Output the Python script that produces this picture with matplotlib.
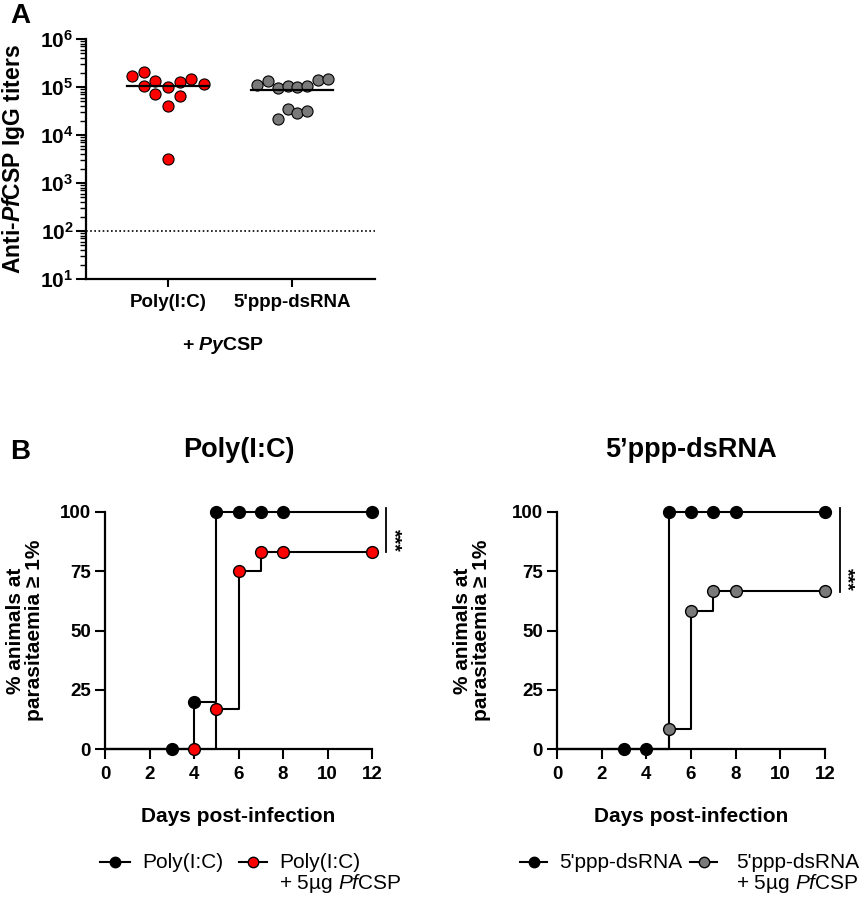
import math
import matplotlib
matplotlib.use('Agg')
import matplotlib.pyplot as plt
from matplotlib.lines import Line2D
from matplotlib.ticker import FuncFormatter, LogLocator, NullFormatter

plt.rcParams['font.family'] = ['Liberation Sans', 'DejaVu Sans']
plt.rcParams['mathtext.fontset'] = 'custom'
plt.rcParams['mathtext.rm'] = 'Liberation Sans'
plt.rcParams['mathtext.bf'] = 'Liberation Sans:bold'
plt.rcParams['mathtext.it'] = 'Liberation Sans:italic:bold'
plt.rcParams['mathtext.sf'] = 'Liberation Sans:italic'

# ---------------- Panel A data ----------------
groups = ['Poly(I:C)', "5'ppp-dsRNA"]
polyic_titers = [1.67e5, 2.1e5, 1.03e5, 1.35e5, 7.3e4, 1.0e5, 4.1e4, 3.1e3,
                 1.27e5, 6.4e4, 1.47e5, 1.17e5]
polyic_offsets = [-0.29, -0.196, -0.196, -0.10, -0.10, 0.0, 0.0, 0.0,
                  0.094, 0.094, 0.19, 0.288]
ppp_titers = [1.12e5, 1.35e5, 9.5e4, 2.2e4, 1.03e5, 3.4e4, 9.8e4, 2.9e4,
              1.07e5, 3.2e4, 1.42e5, 1.49e5]
ppp_offsets = [-0.28, -0.196, -0.116, -0.116, -0.035, -0.035, 0.04, 0.04,
               0.12, 0.12, 0.207, 0.293]
medians = [1.07e5, 8.8e4]
detection_limit = 100

# ---------------- Panel B data ----------------
days_polyic = [3, 4, 5, 6, 7, 8, 12]
pct_polyic = [0, 20, 100, 100, 100, 100, 100]
days_polyic_csp = [4, 5, 6, 7, 8, 12]
pct_polyic_csp = [0, 16.7, 75, 83.3, 83.3, 83.3]
days_ppp = [3, 4, 5, 6, 7, 8, 12]
pct_ppp = [0, 0, 100, 100, 100, 100, 100]
days_ppp_csp = [5, 6, 7, 8, 12]
pct_ppp_csp = [8.3, 58.3, 66.7, 66.7, 66.7]

RED = '#ff0000'
GRAY = '#7a7a7a'
W, H = 865, 899

fig = plt.figure(figsize=(W / 100, H / 100), dpi=100)


def rect(l, t, r, b):
    return [l / W, 1 - b / H, (r - l) / W, (b - t) / H]


def style_axes(ax):
    for s in ['top', 'right']:
        ax.spines[s].set_visible(False)
    for s in ['left', 'bottom']:
        ax.spines[s].set_linewidth(1.6)


# ================= Panel A =================
axA = fig.add_axes(rect(86, 39, 375, 279))
style_axes(axA)
axA.set_yscale('log')
axA.set_ylim(10, 1e6)
axA.set_xlim(-0.66, 1.67)

for gi, (vals, offs, col) in enumerate([(polyic_titers, polyic_offsets, RED),
                                        (ppp_titers, ppp_offsets, GRAY)]):
    xs = [gi + o for o in offs]
    axA.scatter(xs, vals, s=64, color=col, edgecolor='black', linewidth=0.8,
                zorder=3, clip_on=False)
    axA.plot([gi - 0.33, gi + 0.33], [medians[gi], medians[gi]], color='black',
             lw=1.6, zorder=4)

axA.axhline(detection_limit, color='black', ls=(0, (1, 1.5)), lw=1.2)

axA.set_xticks(range(len(groups)))
axA.set_xticklabels(groups, fontsize=13.5, fontweight='bold')
axA.tick_params(axis='x', length=6, width=1.5, pad=5)
axA.yaxis.set_major_locator(LogLocator(base=10, numticks=10))
axA.yaxis.set_minor_locator(LogLocator(base=10, subs=range(2, 10), numticks=20))
axA.yaxis.set_minor_formatter(NullFormatter())
axA.yaxis.set_major_formatter(FuncFormatter(
    lambda v, p: r'$\mathbf{10^{%d}}$' % round(math.log10(v))))
axA.tick_params(axis='y', which='major', length=7, width=1.5, pad=2, labelsize=15)
axA.tick_params(axis='y', which='minor', length=4, width=1.0)
axA.set_ylabel(r'Anti-$\mathit{Pf}$CSP IgG titers', fontsize=16.5, fontweight='bold',
               va='center')
axA.yaxis.set_label_coords(-0.251, 0.5)
axA.set_xlabel(r'+ $\mathit{Py}$CSP', fontsize=14, fontweight='bold', va='center')
axA.xaxis.set_label_coords(0.474, -0.275)

fig.text(20 / W, 1 - 16 / H, 'A', fontsize=20, fontweight='bold', ha='center',
         va='center')
fig.text(20 / W, 1 - 452 / H, 'B', fontsize=20, fontweight='bold', ha='center',
         va='center')


# ================= Panel B =================
def survival_panel(rect_px, title, d1, p1, c1, d2, p2, c2):
    ax = fig.add_axes(rect(*rect_px))
    style_axes(ax)
    ax.set_xlim(0, 12)
    ax.set_ylim(0, 100)
    for d, p, c in [(d1, p1, c1), (d2, p2, c2)]:
        ax.step([0] + d, [0] + p, where='post', color='black', lw=1.5,
                clip_on=False, zorder=2)
    for d, p, c in [(d1, p1, c1), (d2, p2, c2)]:
        ax.plot(d, p, 'o', color=c, mec='black', mew=1.0, ms=8.5,
                clip_on=False, zorder=3)
    # significance bracket
    top, bot = max(p1[-1], p2[-1]), min(p1[-1], p2[-1])
    xb = d1[-1] + 0.65
    ax.plot([xb, xb], [top + 1.5, bot - 0.3], color='black', lw=1.3,
            clip_on=False)
    ax.text(xb + 0.3, bot + 4.8, '***', rotation=270, ha='center', va='center',
            fontsize=14, fontweight='bold')
    ax.set_xticks(range(0, 13, 2))
    ax.set_yticks([0, 25, 50, 75, 100])
    ax.tick_params(axis='both', length=7, width=1.5, labelsize=13.5)
    ax.tick_params(axis='x', pad=5)
    ax.tick_params(axis='y', pad=3)
    for lab in ax.get_xticklabels() + ax.get_yticklabels():
        lab.set_fontweight('bold')
    ax.set_ylabel('% animals at\nparasitaemia \u2265 1%', fontsize=15,
                  fontweight='bold', va='center', linespacing=1.05)
    ax.set_xlabel('Days post-infection', fontsize=15, fontweight='bold',
                  va='center')
    ax.xaxis.set_label_coords(0.5, -0.286)
    ax.text(0.5, 1.261, title, transform=ax.transAxes, fontsize=19.5,
            fontweight='bold', ha='center', va='center')
    return ax


axL = survival_panel((105, 512, 372, 749), 'Poly(I:C)',
                     days_polyic, pct_polyic, 'black',
                     days_polyic_csp, pct_polyic_csp, RED)
axL.yaxis.set_label_coords(-0.30, 0.5)
axR = survival_panel((557, 512, 825, 749), '5\u2019ppp-dsRNA',
                     days_ppp, pct_ppp, 'black',
                     days_ppp_csp, pct_ppp_csp, GRAY)
axR.yaxis.set_label_coords(-0.317, 0.5)


# ================= Legends (manual) =================
def legend_entry(x0, x1, y, col, tx, lines):
    fig.add_artist(Line2D([x0 / W, x1 / W], [1 - y / H, 1 - y / H],
                          transform=fig.transFigure, color='black', lw=1.5))
    fig.add_artist(Line2D([(x0 + x1) / 2 / W], [1 - y / H], marker='o',
                          transform=fig.transFigure, color=col, mec='black',
                          mew=1.0, ms=7.5, ls='none'))
    for i, ln in enumerate(lines):
        fig.text(tx / W, 1 - (y + 6.5 + i * 20.5) / H, ln, fontsize=15,
                 ha='left', va='baseline')


legend_entry(100, 130, 862, 'black', 142, ['Poly(I:C)'])
legend_entry(239, 267, 862, RED, 279, ['Poly(I:C)', r'+ 5µg $\mathsf{Pf}$CSP'])
legend_entry(520, 547, 862, 'black', 559, ["5'ppp-dsRNA"])
legend_entry(690, 717, 862, GRAY, 736, ["5'ppp-dsRNA", r'+ 5µg $\mathsf{Pf}$CSP'])

fig.savefig('out.png', dpi=100)
